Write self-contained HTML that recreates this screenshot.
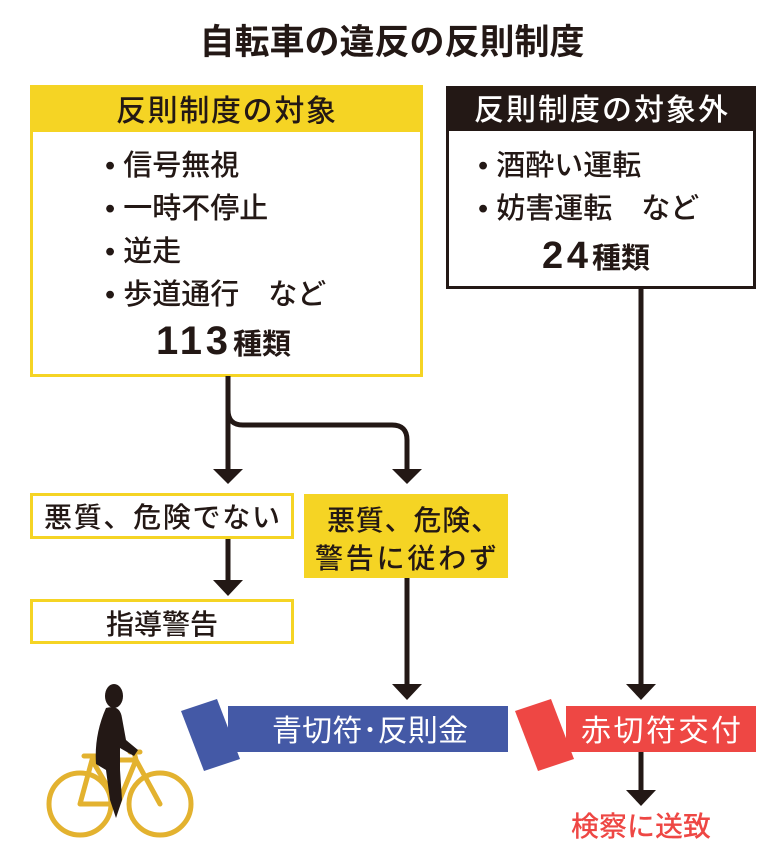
<!DOCTYPE html>
<html><head><meta charset="utf-8"><style>
body{margin:0;background:#fff;}
svg text{font-family:"Liberation Sans","Noto Sans CJK JP",sans-serif;}
</style></head><body>
<svg width="784" height="851" viewBox="0 0 784 851" xmlns="http://www.w3.org/2000/svg">
<text x="392" y="54" font-size="35" font-weight="bold" text-anchor="middle" fill="#231815">自転車の違反の反則制度</text>
<!-- left box -->
<rect x="31.5" y="86.5" width="390" height="289" fill="#fff" stroke="#f5d424" stroke-width="3"/>
<rect x="30" y="85" width="393" height="47" fill="#f5d424"/>
<text x="226" y="121" font-size="30" font-weight="500" text-anchor="middle" fill="#231815" textLength="220">反則制度の対象</text>
<g font-size="29" font-weight="500" fill="#231815">
<text x="105" y="175">• 信号無視</text>
<text x="105" y="218">• 一時不停止</text>
<text x="105" y="261">• 逆走</text>
<text x="105" y="304">• 歩道通行　など</text>
</g>
<text x="156" y="354" font-size="40" font-weight="bold" fill="#231815" textLength="72">113</text>
<text x="233" y="354" font-size="29" font-weight="bold" fill="#231815">種類</text>
<!-- right box -->
<rect x="447.5" y="87.5" width="307" height="200" fill="#fff" stroke="#231815" stroke-width="3"/>
<rect x="446" y="86" width="310" height="45" fill="#231815"/>
<text x="601" y="120" font-size="30" font-weight="500" text-anchor="middle" fill="#fff" textLength="254">反則制度の対象外</text>
<g font-size="29" font-weight="500" fill="#231815">
<text x="478" y="175">• 酒酔い運転</text>
<text x="478" y="218">• 妨害運転　など</text>
</g>
<text x="542" y="268" font-size="38" font-weight="bold" fill="#231815" textLength="46">24</text>
<text x="592" y="268" font-size="29" font-weight="bold" fill="#231815">種類</text>
<!-- connectors -->
<g stroke="#231815" stroke-width="5" fill="none">
<path d="M228 376 V470"/>
<path d="M228 410 Q228 425 243 425 H392 Q407 425 407 440 V470"/>
<path d="M228 538 V582"/>
<path d="M407 578 V685"/>
<path d="M641 288 V685"/>
<path d="M641 752 V790"/>
</g>
<g fill="#231815">
<polygon points="213,469 243,469 228,484"/>
<polygon points="392,469 422,469 407,484"/>
<polygon points="213,580 243,580 228,596"/>
<polygon points="392,684 422,684 407,700"/>
<polygon points="626,684 656,684 641,700"/>
<polygon points="626,790 656,790 641,806"/>
</g>
<!-- middle boxes -->
<rect x="31.5" y="494.5" width="261" height="43" fill="#fff" stroke="#f5d424" stroke-width="3"/>
<text x="162" y="527" font-size="28" font-weight="500" text-anchor="middle" fill="#231815" textLength="236">悪質、危険でない</text>
<rect x="304" y="494" width="204" height="84" fill="#f5d424"/>
<text x="413" y="530" font-size="28" font-weight="500" text-anchor="middle" fill="#231815" textLength="172">悪質、危険、</text>
<text x="406" y="568" font-size="28" font-weight="500" text-anchor="middle" fill="#231815" textLength="182">警告に従わず</text>
<rect x="31.5" y="600.5" width="261" height="42" fill="#fff" stroke="#f5d424" stroke-width="3"/>
<text x="162" y="634" font-size="28" font-weight="500" text-anchor="middle" fill="#231815">指導警告</text>
<!-- blue banner -->
<polygon points="181,711 217,699 240,759 204,771" fill="#4459a6"/>
<rect x="228" y="706" width="280" height="46" fill="#4459a6"/>
<text x="370" y="741" font-size="30" text-anchor="middle" fill="#fff" textLength="196">青切符･反則金</text>
<!-- red banner -->
<polygon points="515,711 551,699 574,759 538,771" fill="#ee4744"/>
<rect x="566" y="706" width="190" height="46" fill="#ee4744"/>
<text x="661" y="741" font-size="30" text-anchor="middle" fill="#fff" textLength="160">赤切符交付</text>
<text x="641" y="836" font-size="28" font-weight="500" text-anchor="middle" fill="#ee4744">検察に送致</text>
<!-- cyclist -->
<g stroke="#e3b22f" stroke-width="5" fill="none" stroke-linecap="round">
<circle cx="80" cy="804" r="31"/>
<circle cx="160" cy="804" r="31"/>
<path d="M80 804 L92 760 L136 760 L160 804 M92 760 L118 804 L136 760 M118 804 H80 M84 756 L100 756 M130 752 L140 752 M136 760 L134 752"/>
</g>
<g fill="#231815">
<ellipse cx="114" cy="696" rx="9" ry="12"/>
<path d="M106 708 Q120 704 122 718 L126 740 L138 750 L134 756 L120 748 L120 770 L122 800 L116 818 L110 800 L106 770 L96 764 Q94 735 106 708Z"/>
</g>
</svg>
</body></html>
